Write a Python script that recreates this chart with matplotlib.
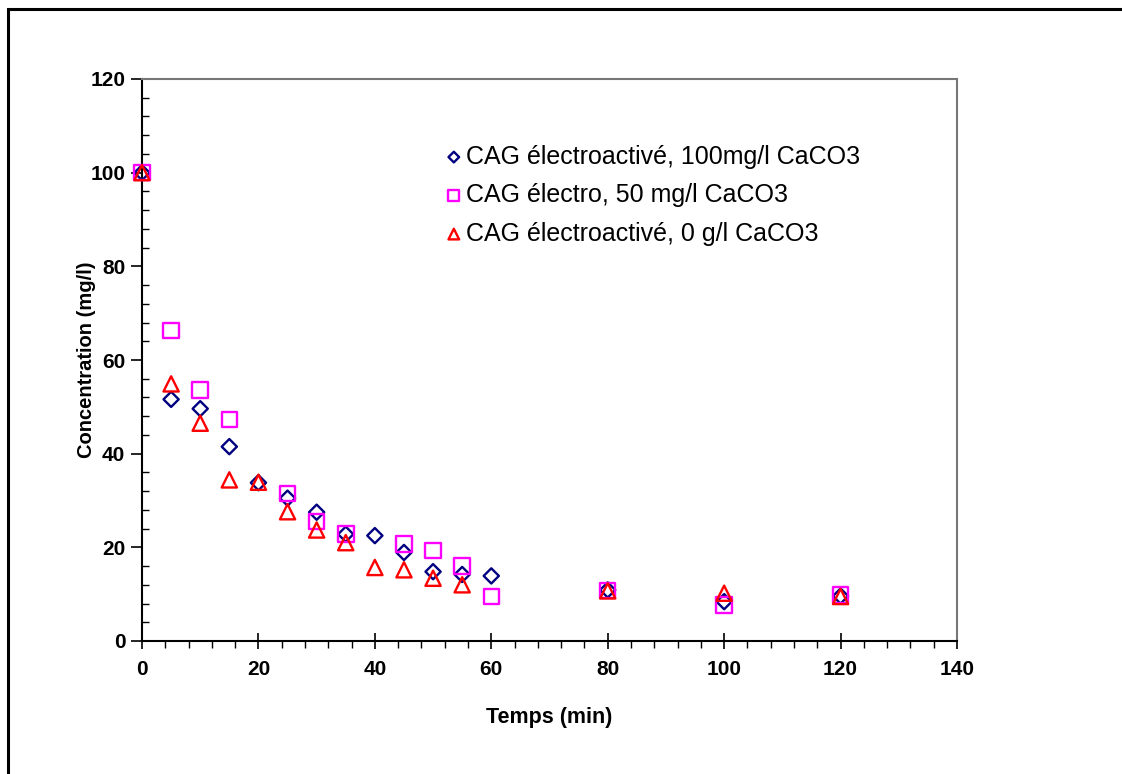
import matplotlib
matplotlib.use("Agg")
import matplotlib.pyplot as plt
from matplotlib.patches import Rectangle
from matplotlib.ticker import MultipleLocator

plt.rcParams['font.family'] = ['Liberation Sans', 'DejaVu Sans']

# Data
t_100 = [0, 5, 10, 15, 20, 25, 30, 35, 40, 45, 50, 55, 60, 80, 100, 120]
c_100 = [100, 51.6, 49.6, 41.5, 33.8, 30.5, 27.5, 22.8, 22.5, 18.9, 14.8, 14.2, 13.9, 10.9, 8.4, 9.6]

t_50 = [0, 5, 10, 15, 25, 30, 35, 45, 50, 55, 60, 80, 100, 120]
c_50 = [100, 66.3, 53.6, 47.3, 31.5, 25.5, 22.8, 20.7, 19.3, 16.0, 9.5, 10.8, 7.7, 9.8]

t_0 = [0, 5, 10, 15, 20, 25, 30, 35, 40, 45, 50, 55, 80, 100, 120]
c_0 = [100, 54.9, 46.5, 34.4, 33.9, 27.6, 23.7, 21.0, 15.7, 15.2, 13.4, 12.0, 10.7, 10.2, 9.5]

labels = ["CAG électroactivé, 100mg/l CaCO3",
          "CAG électro, 50 mg/l CaCO3",
          "CAG électroactivé, 0 g/l CaCO3"]

fig = plt.figure(figsize=(11.22, 7.74), dpi=100)
# outer frame
fig.patches.append(Rectangle((8/1122, -0.1), 1.2, 1 - 9/774 + 0.1, transform=fig.transFigure,
                             fill=False, edgecolor='black', linewidth=2.2))

ax = fig.add_axes([142/1122, 1 - 641/774, (957-142)/1122, (641-79)/774])

ax.scatter(t_100, c_100, marker='D', s=60, facecolors='none', edgecolors='#000080', linewidths=1.7,
           label=labels[0], zorder=3, clip_on=False)
ax.scatter(t_50, c_50, marker='s', s=125, facecolors='none', edgecolors='#FF00FF', linewidths=1.7,
           label=labels[1], zorder=3, clip_on=False)
ax.scatter(t_0, c_0, marker='^', s=120, facecolors='none', edgecolors='#FF0000', linewidths=1.7,
           label=labels[2], zorder=4, clip_on=False)

ax.set_xlim(0, 140)
ax.set_ylim(0, 120)
ax.xaxis.set_major_locator(MultipleLocator(20))
ax.xaxis.set_minor_locator(MultipleLocator(4))
ax.yaxis.set_major_locator(MultipleLocator(20))
ax.yaxis.set_minor_locator(MultipleLocator(4))

ax.tick_params(axis='x', which='major', direction='inout', length=12, width=1.2, labelsize=15, pad=8)
ax.tick_params(axis='x', which='minor', direction='out', length=5, width=1)
ax.tick_params(axis='y', which='major', direction='out', length=8, width=1.2, labelsize=15, pad=4)
ax.tick_params(axis='y', which='minor', direction='in', length=5, width=1)
for lab in ax.get_xticklabels() + ax.get_yticklabels():
    lab.set_fontweight('bold')

for side in ['left', 'bottom']:
    ax.spines[side].set_color('black')
    ax.spines[side].set_linewidth(1.5)
for side in ['top', 'right']:
    ax.spines[side].set_color('#777777')
    ax.spines[side].set_linewidth(1.5)

ax.set_xlabel('Temps (min)', fontsize=15.5, fontweight='bold', labelpad=20)
ax.set_ylabel('Concentration (mg/l)', fontsize=14.5, fontweight='bold')
ax.yaxis.set_label_coords(-0.056, 0.5)

leg = ax.legend(loc='upper left', bbox_to_anchor=(0.355, 0.901), frameon=False, fontsize=18,
                handletextpad=0.0, labelspacing=0.58, borderaxespad=0, handlelength=1.0,
                scatterpoints=1, markerscale=0.7)

fig.savefig('out.png', dpi=100)
